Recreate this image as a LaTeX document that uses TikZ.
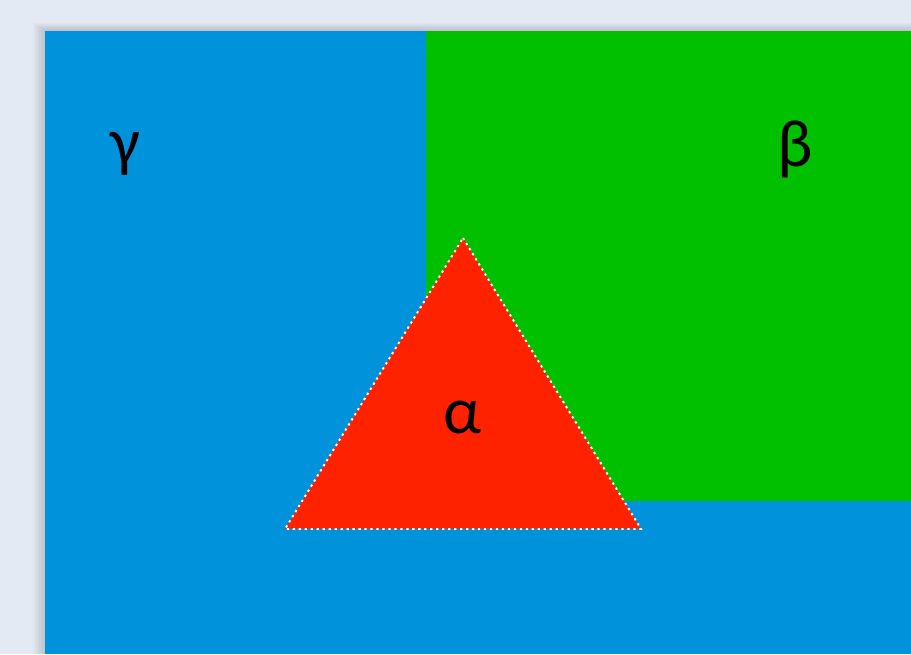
\documentclass[tikz,border=0pt]{standalone}
\usepackage{fontspec}
\setmainfont{Carlito}
\usetikzlibrary{positioning}

\definecolor{pagebg}{HTML}{E4EAF4}
\definecolor{regionblue}{HTML}{0092DB}
\definecolor{regiongreen}{HTML}{00C000}
\definecolor{regionred}{HTML}{FF2200}

\begin{document}
\begin{tikzpicture}[every node/.style={font=\fontsize{38}{42}\selectfont, text=black}, region/.style={draw=none}, border/.style={draw=white, line width=1.1pt, dash pattern=on 1.3pt off 2.1pt}]
	\useasboundingbox (0,0) rectangle (18.22,13.08);
	\fill[pagebg] (0,0) rectangle (18.22,13.08);
	% soft shadow round the page
	\foreach \s in {1,...,8}
		\fill[black, opacity=0.018] (0.9-0.03*\s,0) rectangle (18.22,12.46+0.02*\s);
	\fill[region, regionblue] (0.9,0) rectangle (18.22,12.46);
	\fill[region, regiongreen] (8.52,3.06) rectangle (18.22,12.46);
	\coordinate (apex) at (9.26,8.32);
	\coordinate (baseleft) at (5.70,2.50);
	\coordinate (baseright) at (12.82,2.50);
	\fill[regionred] (apex) -- (baseright) -- (baseleft) -- cycle;
	\draw[border] (apex) -- (baseright) -- (baseleft) -- cycle;
	\node (gamma) at (2.5,10.0) {γ};
	\node (beta) at (15.9,10.1) {β};
	\node (alpha) at (9.24,4.72) {α};
\end{tikzpicture}
\end{document}
